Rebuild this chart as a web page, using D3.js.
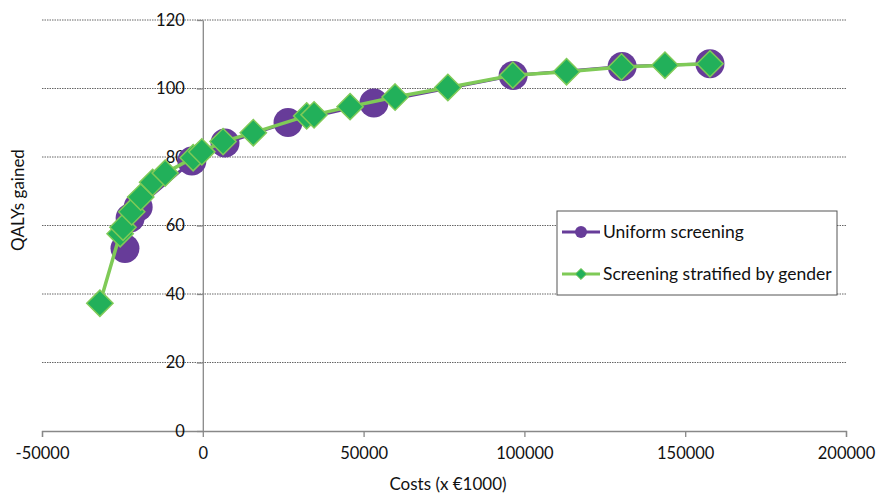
<!DOCTYPE html>
<html>
<head>
<meta charset="utf-8">
<script src="https://cdn.jsdelivr.net/npm/d3@7"></script>
<style>
  body { margin: 0; background: #fff; }
  text { font-family: Lato, "Liberation Sans", sans-serif; fill: #111; }
</style>
</head>
<body>
<div id="plotDiv"></div>
<script>
// Uniform screening (costs x1000 EUR, QALYs)
var uniformCosts = [-24200, -22600, -20100, -3400, 6900, 26500, 53200, 96500, 130400, 157700];
var uniformQalys = [53.3, 62.2, 65.4, 78.8, 84.1, 90.1, 95.8, 103.8, 106.4, 107.2];

// Screening stratified by gender
var stratCosts = [-32000, -25700, -24800, -22100, -19300, -15600, -11700, -3000, -300, 6300, 15700,
                  32300, 34600, 45800, 59800, 76200, 96400, 113100, 130200, 143700, 157700];
var stratQalys = [37.3, 57.6, 59.5, 64.0, 68.3, 72.6, 75.3, 79.8, 81.5, 84.5, 87.1,
                  92.0, 92.3, 94.7, 97.5, 100.3, 103.9, 104.9, 106.3, 106.8, 107.2];

var xTicks = [-50000, 0, 50000, 100000, 150000, 200000];
var yTicks = [0, 20, 40, 60, 80, 100, 120];
var seriesNames = ["Uniform screening", "Screening stratified by gender"];

var width = 877, height = 494;
var purple = "#673c99", lineGreen = "#7fca57", fillGreen = "#22b05a";

var x = d3.scaleLinear().domain([-50000, 200000]).range([42, 846]);
var y = d3.scaleLinear().domain([0, 120]).range([431, 20]);

var svg = d3.select("#plotDiv").append("svg")
    .attr("width", width)
    .attr("height", height);

// gridlines
svg.append("g").selectAll("line")
    .data(yTicks.filter(function(d) { return d > 0; }))
    .enter().append("line")
    .attr("x1", x(-50000)).attr("x2", x(200000))
    .attr("y1", function(d) { return y(d); })
    .attr("y2", function(d) { return y(d); })
    .attr("stroke", "#666")
    .attr("stroke-width", 1)
    .attr("stroke-dasharray", "1.5,1");

// x axis along y = 0
var xAxis = svg.append("g")
    .attr("transform", "translate(0," + y(0) + ")")
    .call(d3.axisBottom(x).tickValues(xTicks)
        .tickFormat(function(d) { return String(d); })
        .tickSize(6).tickPadding(10));
xAxis.select(".domain").attr("stroke", "#888").attr("stroke-width", 1.3);
xAxis.selectAll(".tick line").attr("stroke", "#888").attr("stroke-width", 1.3);
xAxis.selectAll(".tick text").style("font-size", "16.5px").style("font-family", "Lato, sans-serif").attr("fill", "#111");

// y axis at x = 0
var yAxis = svg.append("g")
    .attr("transform", "translate(" + x(0) + ",0)")
    .call(d3.axisLeft(y).tickValues(yTicks).tickSize(6).tickPadding(12).tickSizeOuter(0));
yAxis.select(".domain").attr("stroke", "#888").attr("stroke-width", 1.3);
yAxis.selectAll(".tick line").attr("stroke", "#888").attr("stroke-width", 1.3);
yAxis.selectAll(".tick text").style("font-size", "16.5px").style("font-family", "Lato, sans-serif").attr("fill", "#111");

// uniform series
var uniform = uniformCosts.map(function(c, i) { return [c, uniformQalys[i]]; });
var strat = stratCosts.map(function(c, i) { return [c, stratQalys[i]]; });
var line = d3.line().x(function(d) { return x(d[0]); }).y(function(d) { return y(d[1]); });

svg.append("path").datum(uniform)
    .attr("d", line).attr("fill", "none")
    .attr("stroke", purple).attr("stroke-width", 3);
svg.append("g").selectAll("circle")
    .data(uniform).enter().append("circle")
    .attr("cx", function(d) { return x(d[0]); })
    .attr("cy", function(d) { return y(d[1]); })
    .attr("r", 14.5)
    .attr("fill", purple);

// stratified series
svg.append("path").datum(strat)
    .attr("d", line).attr("fill", "none")
    .attr("stroke", lineGreen).attr("stroke-width", 3.5);
var diamond = d3.symbol().type(d3.symbolDiamond2).size(440);
svg.append("g").selectAll("path")
    .data(strat).enter().append("path")
    .attr("d", diamond)
    .attr("transform", function(d) { return "translate(" + x(d[0]) + "," + y(d[1]) + ")"; })
    .attr("fill", fillGreen)
    .attr("stroke", lineGreen)
    .attr("stroke-width", 1.5);

// axis titles
svg.append("text")
    .attr("x", 448).attr("y", 490)
    .attr("text-anchor", "middle")
    .style("font-size", "17px")
    .text("Costs (x \u20ac1000)");
svg.append("text")
    .attr("transform", "translate(24,200) rotate(-90)")
    .attr("text-anchor", "middle")
    .style("font-size", "17px")
    .text("QALYs gained");

// legend
var legend = svg.append("g");
legend.append("rect")
    .attr("x", 557).attr("y", 211).attr("width", 280).attr("height", 84)
    .attr("fill", "#fff").attr("stroke", "#555").attr("stroke-width", 1);
var ly = [232, 274];
legend.append("line").attr("x1", 562).attr("x2", 600).attr("y1", ly[0]).attr("y2", ly[0])
    .attr("stroke", purple).attr("stroke-width", 3);
legend.append("circle").attr("cx", 581).attr("cy", ly[0]).attr("r", 6).attr("fill", purple);
legend.append("line").attr("x1", 562).attr("x2", 600).attr("y1", ly[1]).attr("y2", ly[1])
    .attr("stroke", lineGreen).attr("stroke-width", 3);
legend.append("path").attr("d", d3.symbol().type(d3.symbolDiamond2).size(80))
    .attr("transform", "translate(581," + ly[1] + ")")
    .attr("fill", fillGreen).attr("stroke", lineGreen).attr("stroke-width", 1);
legend.selectAll("text.lab")
    .data(seriesNames).enter().append("text")
    .attr("class", "lab")
    .attr("x", 603)
    .attr("y", function(d, i) { return ly[i]; })
    .attr("dy", "0.35em")
    .style("font-size", "17.5px")
    .text(function(d) { return d; });
</script>
</body>
</html>
